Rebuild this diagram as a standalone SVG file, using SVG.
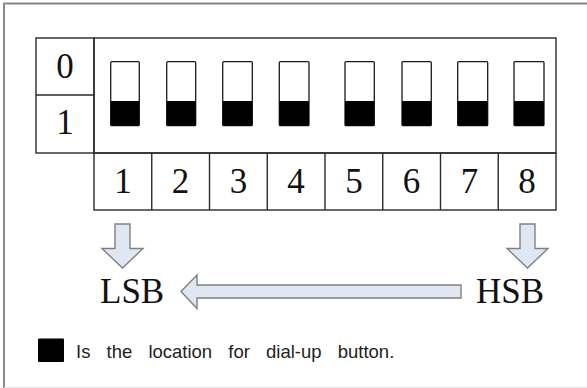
<svg xmlns="http://www.w3.org/2000/svg" width="587" height="388" viewBox="0 0 587 388">
<style>
.frame{fill:none;stroke:#2a2a2a;stroke-width:1.4}
.sw{fill:#fff;stroke:#1a1a1a;stroke-width:1.3}
.knob{fill:#000}
.num{font-family:"Liberation Serif","Times New Roman",serif;font-size:35px;fill:#111;text-anchor:middle}
.lbl{font-family:"Liberation Serif","Times New Roman",serif;font-size:35px;fill:#111}
.arrow{fill:#dfe7f3;stroke:#808080;stroke-width:1.4;stroke-linejoin:miter}
.note{font-family:"Liberation Sans",Arial,sans-serif;font-size:18.5px;fill:#222;word-spacing:11px}
</style>
<rect width="587" height="388" fill="#fff"/>
<g id="border">
<line x1="3" y1="3.5" x2="587" y2="3.5" stroke="#858585" stroke-width="2"/>
<line x1="4" y1="3" x2="4" y2="388" stroke="#8a8a8a" stroke-width="2"/>
<line x1="4" y1="387.5" x2="587" y2="387.5" stroke="#e2e2e2" stroke-width="1"/>
</g>
<g id="state-labels">
<rect class="frame" x="36" y="38" width="58" height="115"/>
<line class="frame" x1="36" y1="95" x2="94" y2="95"/>
<text class="num" x="65" y="78">0</text>
<text class="num" x="65" y="134">1</text>
</g>
<g id="switch-block">
<rect class="frame" x="94" y="38" width="462" height="115"/>
<g id="sw1"><rect class="sw" x="110.7" y="61.7" width="28.6" height="64" rx="1"/><rect class="knob" x="110.7" y="101" width="28.6" height="24.7" rx="1"/></g>
<g id="sw2"><rect class="sw" x="166.7" y="61.7" width="29" height="64" rx="1"/><rect class="knob" x="166.7" y="101" width="29" height="24.7" rx="1"/></g>
<g id="sw3"><rect class="sw" x="222.7" y="61.7" width="29.6" height="64" rx="1"/><rect class="knob" x="222.7" y="101" width="29.6" height="24.7" rx="1"/></g>
<g id="sw4"><rect class="sw" x="279.3" y="61.7" width="29.7" height="64" rx="1"/><rect class="knob" x="279.3" y="101" width="29.7" height="24.7" rx="1"/></g>
<g id="sw5"><rect class="sw" x="345" y="61.7" width="29.3" height="64" rx="1"/><rect class="knob" x="345" y="101" width="29.3" height="24.7" rx="1"/></g>
<g id="sw6"><rect class="sw" x="402" y="61.7" width="29.3" height="64" rx="1"/><rect class="knob" x="402" y="101" width="29.3" height="24.7" rx="1"/></g>
<g id="sw7"><rect class="sw" x="457.7" y="61.7" width="30" height="64" rx="1"/><rect class="knob" x="457.7" y="101" width="30" height="24.7" rx="1"/></g>
<g id="sw8"><rect class="sw" x="514" y="61.7" width="30" height="64" rx="1"/><rect class="knob" x="514" y="101" width="30" height="24.7" rx="1"/></g>
</g>
<g id="number-row">
<rect class="frame" x="94" y="153" width="462" height="57"/>
<line class="frame" x1="151.75" y1="153" x2="151.75" y2="210"/>
<line class="frame" x1="209.5" y1="153" x2="209.5" y2="210"/>
<line class="frame" x1="267.25" y1="153" x2="267.25" y2="210"/>
<line class="frame" x1="325" y1="153" x2="325" y2="210"/>
<line class="frame" x1="382.75" y1="153" x2="382.75" y2="210"/>
<line class="frame" x1="440.5" y1="153" x2="440.5" y2="210"/>
<line class="frame" x1="498.25" y1="153" x2="498.25" y2="210"/>
<text class="num" x="122.9" y="193">1</text>
<text class="num" x="180.6" y="193">2</text>
<text class="num" x="238.4" y="193">3</text>
<text class="num" x="296.1" y="193">4</text>
<text class="num" x="353.9" y="193">5</text>
<text class="num" x="411.6" y="193">6</text>
<text class="num" x="469.4" y="193">7</text>
<text class="num" x="527.1" y="193">8</text>
</g>
<g id="connectors">
<path class="arrow" d="M115,224 H130 V248.5 H143 L122.5,268 L102,248.5 H115 Z"/>
<path class="arrow" d="M520,224 H535 V248.5 H548 L527.5,268 L507,248.5 H520 Z"/>
<path class="arrow" d="M461,285 V298 H197 V308.5 L181,291.5 L197,275 V285 Z"/>
</g>
<g id="lsb"><text class="lbl" x="100" y="303">LSB</text></g>
<g id="hsb"><text class="lbl" x="476" y="303">HSB</text></g>
<g id="legend">
<rect x="38" y="338.5" width="26" height="23.5" rx="1" fill="#000"/>
<text class="note" x="76" y="357.5">Is the location for dial-up button.</text>
</g>
</svg>
